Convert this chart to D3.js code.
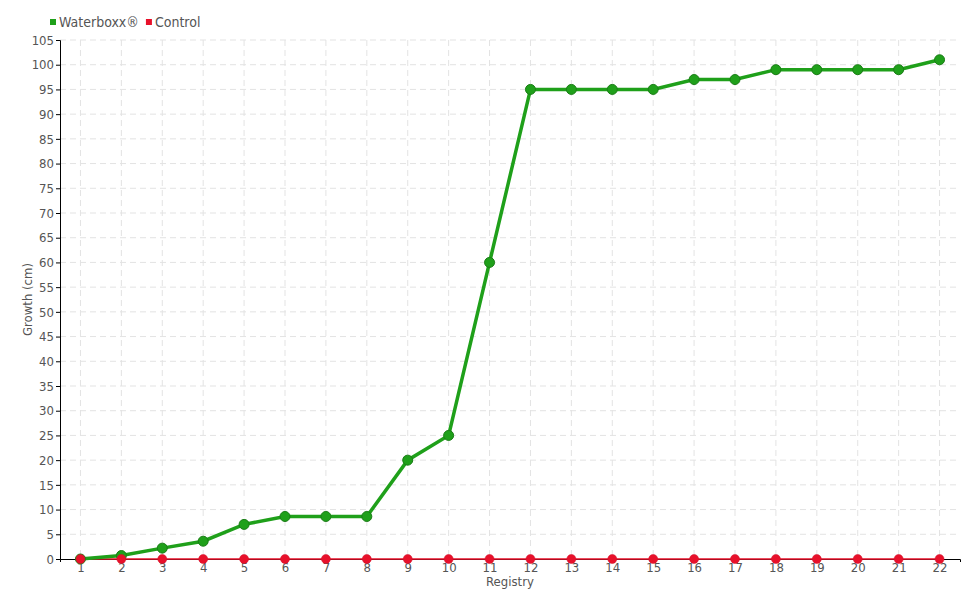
<!DOCTYPE html>
<html>
<head>
<meta charset="utf-8">
<script src="https://cdn.jsdelivr.net/npm/d3@7"></script>
<style>
  body { margin: 0; background: #fff; }
  svg text { font-family: "DejaVu Sans Condensed", "Liberation Sans Narrow", "DejaVu Sans", sans-serif; font-stretch: condensed; }
</style>
</head>
<body>
<div id="chart"></div>
<script>
// chart data
const registry = d3.range(1, 23).map(String);
const waterboxx = [0, 0.7, 2.2, 3.6, 7, 8.6, 8.6, 8.6, 20, 25, 60, 95, 95, 95, 95, 97, 97, 99, 99, 99, 99, 101];
const control = [0, 0, 0, 0, 0, 0, 0, 0, 0, 0, 0, 0, 0, 0, 0, 0, 0, 0, 0, 0, 0, 0];
const yTicks = d3.range(0, 106, 5);
const seriesNames = ["Waterboxx®", "Control"];

(function () {
  const W = 980, H = 600;
  const margin = { top: 40, right: 20, bottom: 41, left: 60 };
  const width = W - margin.left - margin.right;
  const height = H - margin.top - margin.bottom;
  const green = "#1fa01a", greenDark = "#1a7d16", red = "#e8102a";

  const svg = d3.select('#chart').append('svg')
    .attr('width', W).attr('height', H);
  const g = svg.append('g')
    .attr('transform', `translate(${margin.left},${margin.top})`);

  const x = d3.scalePoint().domain(registry).range([0, width]).padding(0.5);
  const y = d3.scaleLinear().domain([0, 105]).range([height, 0]);

  //grid
  g.append('g').selectAll('line.h').data(yTicks.slice(1)).join('line')
    .attr('x1', 0).attr('x2', width)
    .attr('y1', d => y(d)).attr('y2', d => y(d))
    .attr('stroke', '#e3e3e3').attr('stroke-dasharray', '6,4');
  g.append('g').selectAll('line.v').data(registry).join('line')
    .attr('x1', d => x(d)).attr('x2', d => x(d))
    .attr('y1', 0).attr('y2', height)
    .attr('stroke', '#e3e3e3').attr('stroke-dasharray', '6,4');

  //axes
  const yAxis = g.append('g').call(d3.axisLeft(y).tickValues(yTicks).tickSize(4).tickPadding(2));
  const xAxis = g.append('g').attr('transform', `translate(0,${height})`)
    .call(d3.axisBottom(x).tickSize(3).tickPadding(1));
  [xAxis, yAxis].forEach(a => {
    a.select('.domain').attr('stroke', '#000');
    a.selectAll('.tick line').attr('stroke', '#000');
    a.selectAll('text').attr('fill', '#555').style('font-size', '13px');
  });

  //axis titles
  g.append('text')
    .attr('x', width / 2).attr('y', height + 27)
    .attr('text-anchor', 'middle').attr('fill', '#555')
    .style('font-size', '13px').text('Registry');
  g.append('text')
    .attr('transform', `translate(${-28},${height / 2}) rotate(-90)`)
    .attr('text-anchor', 'middle').attr('fill', '#555')
    .style('font-size', '13px').text('Growth (cm)');

  //lines
  const line = d3.line().x((d, i) => x(registry[i])).y(d => y(d));
  g.append('path').datum(control).attr('d', line)
    .attr('fill', 'none').attr('stroke', red).attr('stroke-width', 1.5);
  g.append('path').datum(waterboxx).attr('d', line)
    .attr('fill', 'none').attr('stroke', green).attr('stroke-width', 3.5);

  g.append('g').selectAll('circle').data(waterboxx).join('circle')
    .attr('cx', (d, i) => x(registry[i])).attr('cy', d => y(d)).attr('r', 5)
    .attr('fill', green).attr('stroke', greenDark).attr('stroke-width', 1);
  g.append('g').selectAll('circle').data(control).join('circle')
    .attr('cx', (d, i) => x(registry[i])).attr('cy', d => y(d)).attr('r', 4.5)
    .attr('fill', red).attr('stroke', '#d0102a').attr('stroke-width', 0.5);

  //legend
  const legend = svg.append('g').attr('transform', 'translate(50,22)');
  const colors = [green, red];
  let lx = 0;
  seriesNames.forEach((name, i) => {
    const item = legend.append('g').attr('transform', `translate(${lx},0)`);
    item.append('rect').attr('x', 0).attr('y', -3).attr('width', 6).attr('height', 6).attr('fill', colors[i]);
    const t = item.append('text').attr('x', 9).attr('y', 5)
      .attr('fill', '#555').style('font-size', '14px').text(name);
    lx += 9 + t.node().getComputedTextLength() + 7;
  });
})();
</script>
</body>
</html>
